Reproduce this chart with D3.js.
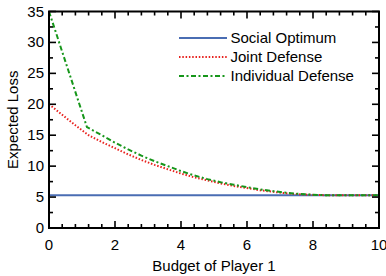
<!DOCTYPE html>
<html><head><meta charset="utf-8">
<script src="https://cdn.jsdelivr.net/npm/d3@7"></script>
<style>
body{margin:0;background:#fff;}
text{font-family:"Liberation Sans",Arial,Helvetica,sans-serif;}
</style></head>
<body><svg id="c" width="386" height="276"></svg>
<script>
const seriesNames = ["Social Optimum","Joint Defense","Individual Defense"];
const socialX = [0, 10];
const socialY = [5.3, 5.3];
const jointX = [0,0.4,0.8,1.2,1.6,2.0,2.4,2.8,3.2,3.6,4.0,4.4,4.8,5.2,5.6,6.0,6.4,6.8,7.2,7.6,8.0,8.4,8.8,9.2,9.6,10];
const jointY = [20.0,18.3,16.6,15.0,13.9,12.9,11.9,11.0,10.2,9.5,8.8,8.2,7.7,7.2,6.8,6.45,6.1,5.85,5.6,5.45,5.35,5.3,5.3,5.3,5.3,5.3];
const indivX = [0,1.15,1.6,2.0,2.4,2.8,3.2,3.6,4.0,4.4,4.8,5.2,5.6,6.0,6.4,6.8,7.2,7.6,8.0,8.4,8.8,9.2,9.6,10];
const indivY = [35,16.3,15.0,13.8,12.7,11.7,10.8,10.0,9.2,8.5,7.9,7.4,7.0,6.6,6.25,5.95,5.7,5.5,5.38,5.3,5.3,5.3,5.3,5.3];
const xTicks = [0,2,4,6,8,10];
const yTicks = [0,5,10,15,20,25,30,35];
const xTitle = "Budget of Player 1";
const yTitle = "Expected Loss";

const FS = 15;
const svg = d3.select("#c");
const L=49, R=379, T=11.5, B=228;
const x = d3.scaleLinear().domain([0,10]).range([L,R]);
const y = d3.scaleLinear().domain([0,35]).range([B,T]);

svg.append("clipPath").attr("id","clp").append("rect")
  .attr("x",L).attr("y",T).attr("width",R-L).attr("height",B-T);

const line = d3.line().x(d=>x(d[0])).y(d=>y(d[1]));
const g = svg.append("g").attr("clip-path","url(#clp)");
const styles = [
  {c:"#4a6db3", dash:null},
  {c:"#e8231f", dash:"1.5,1.8"},
  {c:"#16961a", dash:"5,2.5,2,2.5"}
];
const data = [
  d3.zip(socialX, socialY),
  d3.zip(jointX, jointY),
  d3.zip(indivX, indivY)
];
data.forEach((d,i)=>{
  g.append("path").attr("d",line(d)).attr("fill","none")
   .attr("stroke",styles[i].c).attr("stroke-width",2)
   .attr("stroke-dasharray",styles[i].dash);
});

// axes with inward ticks
const xMinor = d3.range(0,10.001,0.4).map(v=>+v.toFixed(2));
const yMinor = d3.range(0,35.001,2.5);
const ax = svg.append("g").attr("stroke","#000").attr("stroke-width",1.6);
xMinor.forEach(v=>{
  const major = xTicks.some(t=>Math.abs(t-v)<1e-6);
  const len = major?7:4;
  ax.append("line").attr("x1",x(v)).attr("x2",x(v)).attr("y1",B).attr("y2",B-len);
  ax.append("line").attr("x1",x(v)).attr("x2",x(v)).attr("y1",T).attr("y2",T+len);
});
yMinor.forEach(v=>{
  const major = yTicks.includes(v);
  const len = major?7:4;
  ax.append("line").attr("y1",y(v)).attr("y2",y(v)).attr("x1",L).attr("x2",L+len);
  ax.append("line").attr("y1",y(v)).attr("y2",y(v)).attr("x1",R).attr("x2",R-len);
});
svg.append("rect").attr("x",L).attr("y",T).attr("width",R-L).attr("height",B-T)
  .attr("fill","none").attr("stroke","#000").attr("stroke-width",2);

svg.append("g").selectAll("text").data(xTicks).join("text")
  .attr("x",d=>x(d)).attr("y",B+21.5).attr("text-anchor","middle")
  .attr("font-size",FS).text(d=>d);
svg.append("g").selectAll("text").data(yTicks).join("text")
  .attr("x",L-5).attr("y",d=>y(d)+5).attr("text-anchor","end")
  .attr("font-size",FS).text(d=>d);
svg.append("text").attr("x",(L+R)/2).attr("y",270.5).attr("text-anchor","middle")
  .attr("font-size",FS).text(xTitle);
svg.append("text").attr("transform",`translate(18,${(T+B)/2}) rotate(-90)`)
  .attr("text-anchor","middle").attr("font-size",FS).text(yTitle);

// legend
const lg = svg.append("g");
seriesNames.forEach((n,i)=>{
  const yy = 38 + i*19;
  lg.append("line").attr("x1",179).attr("x2",227).attr("y1",yy).attr("y2",yy)
    .attr("stroke",styles[i].c).attr("stroke-width",2).attr("stroke-dasharray",styles[i].dash);
  lg.append("text").attr("x",230.5).attr("y",yy+5).attr("font-size",FS).text(n);
});
</script></body></html>
